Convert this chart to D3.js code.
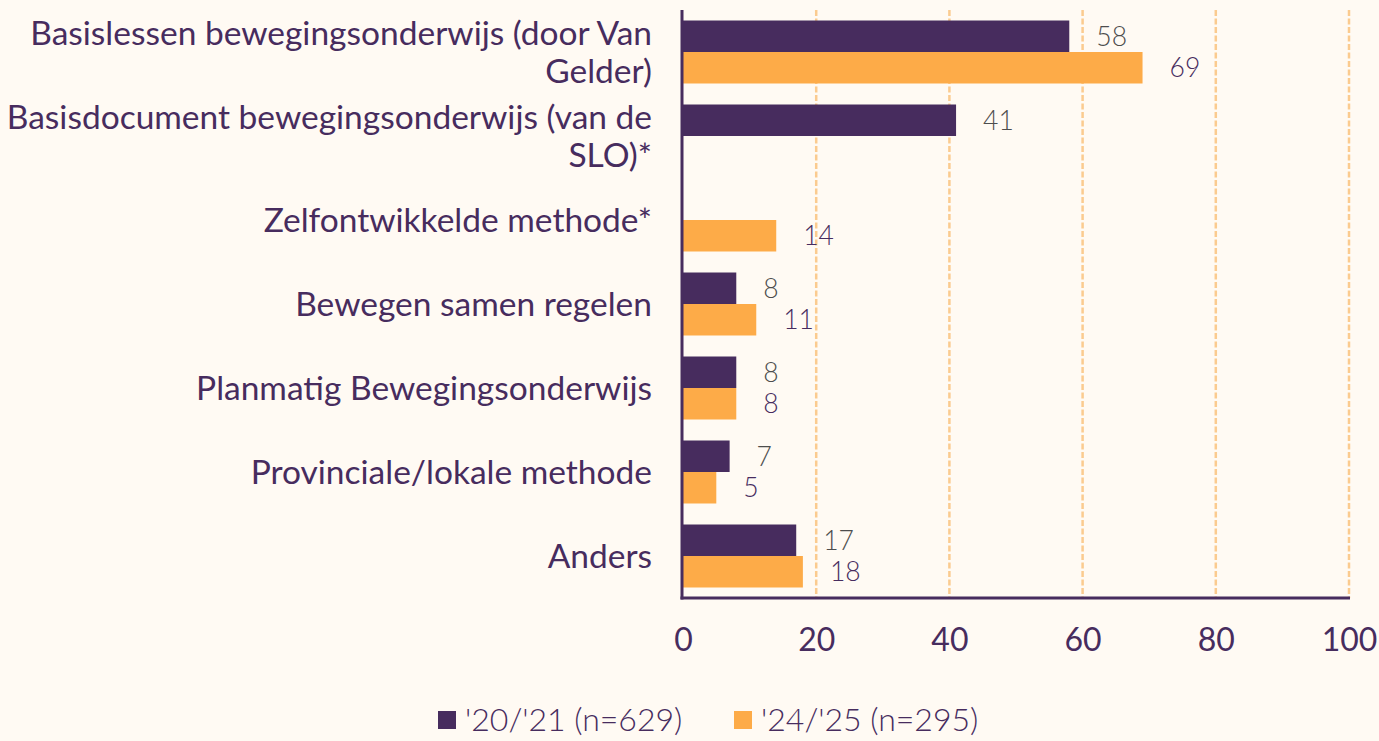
<!DOCTYPE html>
<html><head><meta charset="utf-8">
<script src="https://cdn.jsdelivr.net/npm/d3@7"></script>
<style>
html,body{margin:0;padding:0;background:#fffaf3;}
svg{display:block;font-family:Lato,"Open Sans",sans-serif;}
.light{font-family:"Lato Light",Lato,sans-serif;font-weight:300;}
</style></head>
<body>
<svg id="chart" width="1379" height="741"></svg>
<script>
const categories = [
  "Basislessen bewegingsonderwijs (door Van Gelder)",
  "Basisdocument bewegingsonderwijs (van de SLO)*",
  "Zelfontwikkelde methode*",
  "Bewegen samen regelen",
  "Planmatig Bewegingsonderwijs",
  "Provinciale/lokale methode",
  "Anders"
];
const series = ["'20/'21 (n=629)", "'24/'25 (n=295)"];
const values2021 = [58, 41, null, 8, 8, 7, 17];
const values2425 = [69, null, 14, 11, 8, 5, 18];
const xTicks = [0, 20, 40, 60, 80, 100];
const colors = ["#472c5e", "#fdab48"];
const labelColors = ["#4d4d4d", "#472c5e"];

(function () {
const svg = d3.select("#chart");
const pLeft = 683, pRight = 1349, pTop = 10, pBottom = 598;
const x = d3.scaleLinear().domain([0, 100]).range([pLeft, pRight]);
const y = d3.scaleBand().domain(categories).range([pTop, pBottom]).paddingInner(0.25).paddingOuter(0.125);
const ySub = d3.scaleBand().domain([0, 1]).range([0, y.bandwidth()]);

// grid
svg.append("g").selectAll("line").data(xTicks.filter(d => d > 0)).join("line")
  .attr("x1", d => x(d)).attr("x2", d => x(d)).attr("y1", pTop).attr("y2", pBottom)
  .attr("stroke", "#fbcb8f").attr("stroke-width", 2.5).attr("stroke-dasharray", "6,2.5");

const data = [];
categories.forEach((c, i) => {
  [values2021[i], values2425[i]].forEach((v, s) => { if (v != null) data.push({c, s, v}); });
});

svg.append("g").selectAll("rect").data(data).join("rect")
  .attr("x", x(0)).attr("y", d => y(d.c) + ySub(d.s))
  .attr("width", d => x(d.v) - x(0)).attr("height", ySub.bandwidth())
  .attr("fill", d => colors[d.s]);

svg.append("g").selectAll("text").data(data).join("text")
  .attr("class", "light")
  .attr("x", d => x(d.v) + 27).attr("y", d => y(d.c) + ySub(d.s) + ySub.bandwidth() / 2)
  .attr("dy", "0.35em").attr("font-size", 26.5)
  .attr("fill", d => labelColors[d.s]).text(d => d.v);

// axes lines
svg.append("line").attr("x1", x(0) - 1).attr("x2", x(0) - 1).attr("y1", pTop).attr("y2", pBottom + 1.5)
  .attr("stroke", "#472c5e").attr("stroke-width", 3);
svg.append("line").attr("x1", x(0) - 2.5).attr("x2", pRight + 1).attr("y1", pBottom).attr("y2", pBottom)
  .attr("stroke", "#472c5e").attr("stroke-width", 3);

// x axis tick labels
const xAxis = d3.axisBottom(x).tickValues(xTicks).tickSize(0).tickPadding(0);
const gx = svg.append("g").attr("transform", `translate(0,${pBottom})`).call(xAxis);
gx.select(".domain").remove();
gx.selectAll("text").attr("y", 42).attr("dy", "0.35em").attr("font-size", 32)
  .attr("font-family", "Lato").attr("fill", "#472c5e");

// category labels with wrapping
const maxW = 662, lineH = 38;
const catG = svg.append("g");
categories.forEach(c => {
  const t = catG.append("text").attr("text-anchor", "end").attr("font-size", 33.5)
    .attr("fill", "#472c5e");
  const words = c.split(" ");
  let lines = [], cur = [];
  const probe = t.append("tspan");
  words.forEach(w => {
    const test = cur.concat([w]).join(" ");
    probe.text(test);
    if (probe.node().getComputedTextLength() > maxW && cur.length) { lines.push(cur.join(" ")); cur = [w]; }
    else cur.push(w);
  });
  lines.push(cur.join(" "));
  probe.remove();
  const cy = y(c) + y.bandwidth() / 2;
  const y0 = cy - (lines.length - 1) * lineH / 2;
  lines.forEach((l, i) => {
    t.append("tspan").attr("x", 652).attr("y", y0 + i * lineH).attr("dy", "0.35em").text(l);
  });
});

// legend
const leg = svg.append("g");
const legItems = [{x: 438, s: 0}, {x: 734, s: 1}];
legItems.forEach(it => {
  leg.append("rect").attr("x", it.x).attr("y", 711).attr("width", 18).attr("height", 18).attr("fill", colors[it.s]);
  leg.append("text").attr("class", "light").attr("x", it.x + 27).attr("y", 720).attr("dy", "0.35em").attr("font-size", 32)
    .attr("fill", "#472c5e").text(series[it.s]);
});
})();
</script>
</body></html>
